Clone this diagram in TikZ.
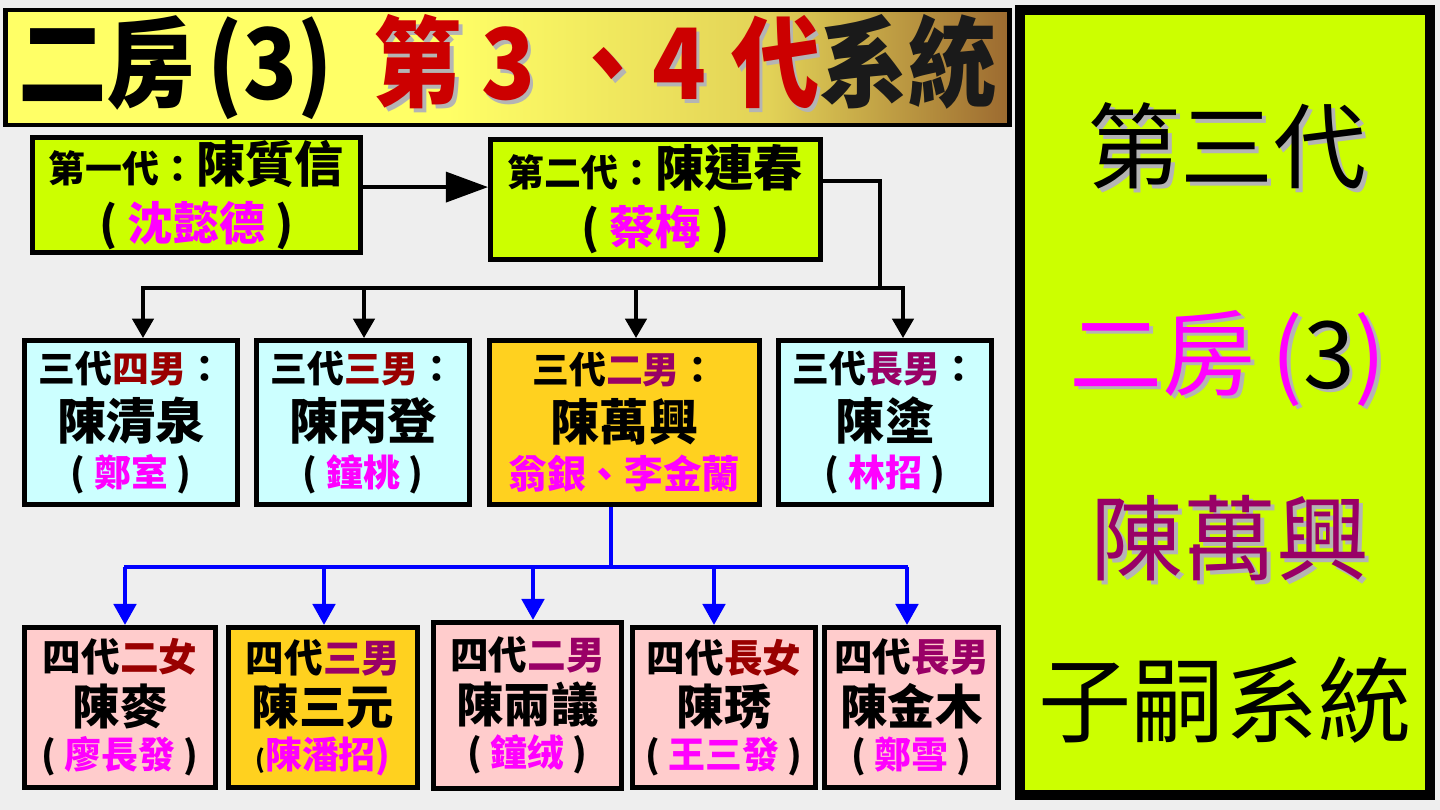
\documentclass[tikz,border=0pt]{standalone}
\usepackage{fontspec}
\setmainfont{Noto Sans CJK TC}
\usetikzlibrary{arrows.meta}
\definecolor{bgray}{HTML}{EEEEEE}
\definecolor{lime}{HTML}{CCFF00}
\definecolor{cyanbox}{HTML}{CCFFFF}
\definecolor{goldbox}{HTML}{FFD11F}
\definecolor{pinkbox}{HTML}{FFCCCC}
\definecolor{mag}{HTML}{FF00FF}
\definecolor{dred}{HTML}{990000}
\definecolor{purp}{HTML}{990066}
\definecolor{tred}{HTML}{CC0000}
\definecolor{tdark}{HTML}{1A1A1A}
\definecolor{shadowgray}{HTML}{B4B4B4}
\definecolor{pureblue}{HTML}{0000FF}
\definecolor{ttlyel}{HTML}{FFFF66}
\definecolor{ttlmid}{HTML}{E2D257}
\definecolor{ttlbrn}{HTML}{9C6A30}
\pgfdeclarehorizontalshading{titleshade}{100bp}{color(0bp)=(ttlyel); color(25bp)=(ttlyel); color(47bp)=(ttlyel); color(63bp)=(ttlmid); color(75bp)=(ttlbrn); color(100bp)=(ttlbrn)}
\newcommand\shd[2]{\makebox[0pt][l]{\hspace*{2.2pt}\raisebox{-2.2pt}{\textcolor{shadowgray}{#2}}}\textcolor{#1}{#2}}
\newcommand\fa{\fontsize{21}{28}\selectfont}
\newcommand\fb{\fontsize{28}{28}\selectfont}
\newcommand\fc{\fontsize{22}{28}\selectfont}
\newcommand\fd{\fontsize{27}{28}\selectfont}
\tikzset{
  box/.style={draw=black, line width=2.8pt, inner sep=0pt, align=center, font=\bfseries},
  gen3/.style={box, minimum width=4.26cm, minimum height=3.28cm},
  gen4/.style={box, minimum height=3.2cm},
  sidetext/.style={inner sep=0pt, font=\fontsize{53}{60}\selectfont},
  conn/.style={draw=black, line width=2.3pt},
  bconn/.style={draw=pureblue, line width=2.8pt},
  dtip/.style={-{Triangle[length=11pt,width=12pt]}},
}

\begin{document}
\begin{tikzpicture}[x=0.02cm,y=-0.02cm]
\fill[bgray] (0,0) rectangle (1440,810);
\useasboundingbox (0,0) rectangle (1440,810);

\node[draw=black, line width=2.8pt, shading=titleshade, minimum width=20.1cm, minimum height=2.3cm,
  inner sep=0pt, font=\fontsize{56}{60}\selectfont\bfseries] (title) at (507.5,67.5)
  {\scalebox{0.9}[1]{二房\hspace{8pt}(3)\hspace{26pt}\shd{tred}{第}\hspace{12pt}\shd{tred}{3}\hspace{18pt}\shd{tred}{、4}\hspace{16pt}\shd{tred}{代}\textcolor{tdark}{系統}}};

\node[draw=black, line width=5.7pt, fill=lime, minimum width=8.2cm, minimum height=15.7cm] (side) at (1225,402.5) {};
\node[sidetext] (side1) at (1227,148) {\shd{black}{第三代}};
\node[sidetext] (side2) at (1228,360) {\shd{mag}{二房}\,\shd{mag}{(}\shd{black}{3}\shd{mag}{)}};
\node[sidetext] (side3) at (1230,540) {\shd{purp}{陳萬興}};
\node[sidetext] (side4) at (1225,700) {子嗣系統};

\node[box, fill=lime, minimum width=6.56cm, minimum height=2.3cm] (g1) at (196.5,195)
  {\fa 第一代：\fb 陳質信\\[7pt] \fontsize{26}{28}\selectfont ( \textcolor{mag}{沈懿德} )};
\node[box, fill=lime, minimum width=6.6cm, minimum height=2.4cm] (g2) at (655.5,199.5)
  {\fa 第二代：\fb 陳連春\\[7pt] \fontsize{26}{28}\selectfont ( \textcolor{mag}{蔡梅} )};

\node[gen3, fill=cyanbox] (s4) at (131,422.5)
  {\fa 三代\textcolor{dred}{四男}：\\[5pt] \fb 陳清泉\\[5pt] \fa ( \textcolor{mag}{鄭室} )};
\node[gen3, fill=cyanbox] (s3) at (363,422.5)
  {\fa 三代\textcolor{dred}{三男}：\\[5pt] \fb 陳丙登\\[5pt] \fa ( \textcolor{mag}{鐘桃} )};
\node[gen3, fill=goldbox, minimum width=5.4cm] (s2) at (624.5,422.5)
  {\fa 三代\textcolor{purp}{二男}：\\[5pt] \fb 陳萬興\\[5pt] \fc\textcolor{mag}{翁銀、李金蘭}};
\node[gen3, fill=cyanbox] (s1) at (885,422.5)
  {\fa 三代\textcolor{purp}{長男}：\\[5pt] \fb 陳塗\\[5pt] \fa ( \textcolor{mag}{林招} )};

\node[gen4, fill=pinkbox, minimum width=3.82cm] (f2d) at (120,707.5)
  {\fc 四代\textcolor{dred}{二女}\\[3.5pt] \fd 陳麥\\[3.5pt] \fa ( \textcolor{mag}{廖長發} )};
\node[gen4, fill=goldbox, minimum width=3.78cm] (f3s) at (323,707.5)
  {\fc 四代\textcolor{purp}{三男}\\[3.5pt] \fd 陳三元\\[3.5pt] {\fontsize{14}{28}\selectfont(}\fa\textcolor{mag}{陳潘招)}};
\node[gen4, fill=pinkbox, minimum width=3.76cm, minimum height=3.32cm] (f2s) at (527.5,705.5)
  {\fc 四代\textcolor{purp}{二男}\\[3.5pt] \fd 陳兩議\\[3.5pt] \fa ( \textcolor{mag}{鐘绒} )};
\node[gen4, fill=pinkbox, minimum width=3.66cm] (f1d) at (724,707.5)
  {\fc 四代\textcolor{dred}{長女}\\[3.5pt] \fd 陳琇\\[3.5pt] \fa ( \textcolor{mag}{王三發} )};
\node[gen4, fill=pinkbox, minimum width=3.48cm] (f1s) at (911.5,707.5)
  {\fc 四代\textcolor{purp}{長男}\\[3.5pt] \fd 陳金木\\[3.5pt] \fa ( \textcolor{mag}{鄭雪} )};

\coordinate (ar) at ([yshift=4.5pt]g1.east);
\draw[conn,-{Triangle[length=24pt,width=17pt]}] (ar) -- (ar -| g2.west);

\coordinate (b0) at ([yshift=10.5pt]g2.east);
\coordinate (bj) at (880,288);
\draw[conn] (b0) -- (b0 -| bj) -- (bj);
\draw[conn] (141,288) -- (905,288);
\foreach \n/\x in {s4/143,s3/364,s2/636,s1/903}{
  \coordinate (a\n) at (\x,288);
  \draw[conn,dtip] (a\n) -- (a\n |- \n.north);
}

\coordinate (cj) at (611,567);
\draw[bconn] (s2.south -| cj) -- (cj);
\draw[bconn] (124,567) -- (908,567);
\foreach \n/\x in {f2d/125,f3s/324,f2s/533,f1d/714,f1s/907}{
  \coordinate (c\n) at (\x,567);
  \draw[bconn,-{Triangle[length=12pt,width=12.5pt]}] (c\n) -- (c\n |- \n.north);
}
\end{tikzpicture}
\end{document}
